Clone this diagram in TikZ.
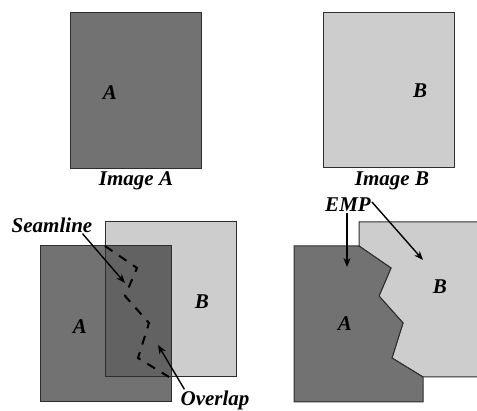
\documentclass[tikz,border=0pt]{standalone}
\usepackage{fontspec}
\setmainfont{Liberation Serif}
\usetikzlibrary{arrows.meta}
\definecolor{imgA}{HTML}{727272}
\definecolor{imgB}{HTML}{CDCDCD}
\definecolor{imgAB}{HTML}{626262}
\definecolor{edge}{HTML}{2E2E2E}
\begin{document}
\begin{tikzpicture}[x=1pt,y=-1pt,
  lbl/.style={font=\fontsize{21}{24}\selectfont\bfseries\itshape, inner sep=1pt},
  box/.style={draw=edge, line width=1pt},
  pointer/.style={-{Stealth[length=9pt,width=7pt]}, line width=1.4pt},
  seam/.style={dash pattern=on 9pt off 8pt, line width=2pt}]
\useasboundingbox (0,0) rectangle (477,411);
\draw[box, fill=imgA] (70,13) rectangle (201,169);
\node[lbl] (ta) at (110,93) {A};
\node[lbl] (capA) at (136,181) {Image A};
\draw[box, fill=imgB] (323,13) rectangle (454,168);
\node[lbl] (tb) at (420,91) {B};
\node[lbl] (capB) at (392,181) {Image B};
\fill[imgA] (40,246) rectangle (171,402);
\fill[imgB] (105,222) rectangle (236,377);
\fill[imgAB] (105,246) rectangle (171,377);
\draw[box] (40,246) rectangle (171,402);
\draw[box] (105,222) rectangle (236,377);
\draw[seam] (105,246) -- (137,268) -- (125,296) -- (149,323) -- (138,358) -- (169,377);
\node[lbl] (la) at (80,327) {A};
\node[lbl] (lb) at (202,302) {B};
\node[lbl] (seamlbl) at (52,225) {Seamline};
\node[lbl] (ovl) at (215,400) {Overlap};
\coordinate (seamtip) at (125,283);
\coordinate (ovltip) at (158,345);
\draw[pointer] ([xshift=-11pt]seamlbl.south east) -- (seamtip);
\draw[pointer] ([xshift=5pt]ovl.north west) -- (ovltip);
\begin{scope}
\clip (0,0) rectangle (477,411);
\draw[box, fill=imgB] (359,222) -- (490,222) -- (490,377) -- (423,377) -- (392,358) -- (403,323) -- (379,296) -- (391,268) -- (359,246) -- cycle;
\draw[box, fill=imgA] (294,246) -- (359,246) -- (391,268) -- (379,296) -- (403,323) -- (392,358) -- (423,377) -- (423,402) -- (294,402) -- cycle;
\end{scope}
\node[lbl] (ra) at (345,324) {A};
\node[lbl] (rb) at (440,287) {B};
\node[lbl] (emp) at (348,205) {EMP};
\coordinate (emptipA) at (347,267);
\coordinate (emptipB) at (423,260);
\draw[pointer] (emp.south -| emptipA) -- (emptipA);
\draw[pointer] ([yshift=3pt]emp.east) -- (emptipB);
\end{tikzpicture}
\end{document}
